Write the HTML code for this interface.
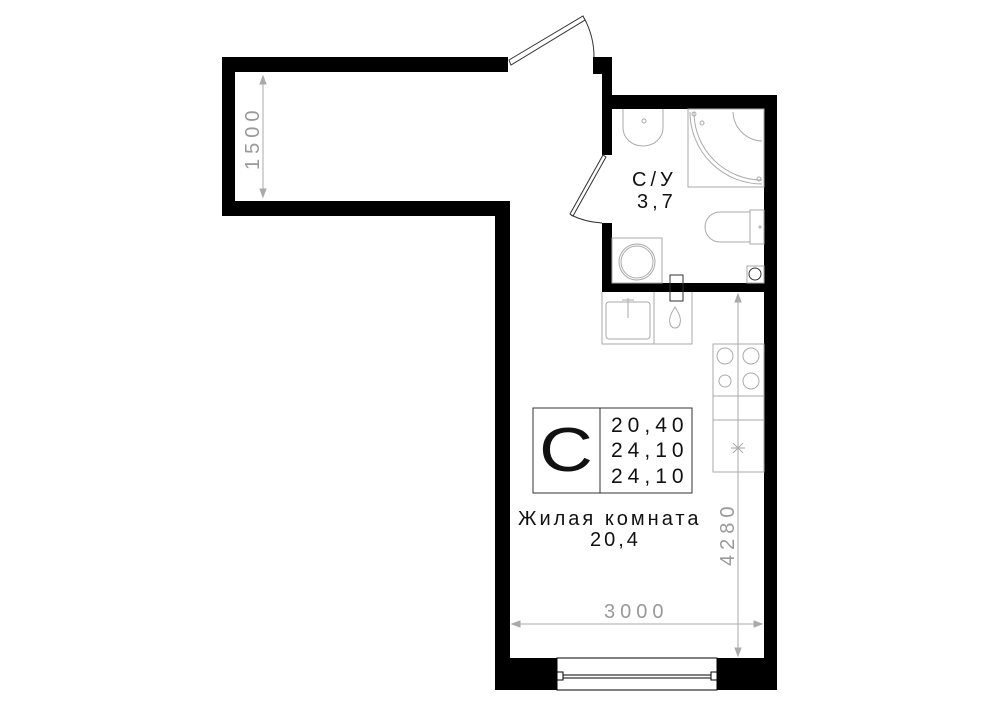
<!DOCTYPE html>
<html><head><meta charset="utf-8"><style>
html,body{margin:0;padding:0;background:#fff;}
svg{display:block;font-family:"Liberation Sans",sans-serif;}
</style></head><body>
<svg width="1000" height="707" viewBox="0 0 1000 707" xmlns="http://www.w3.org/2000/svg">
<g fill="#000">
<rect x="222" y="57" width="286" height="15"/>
<rect x="222" y="57" width="13" height="159"/>
<rect x="222" y="201" width="288" height="15"/>
<rect x="495" y="201" width="15" height="489"/>
<rect x="495" y="658" width="62" height="32"/>
<rect x="717" y="658" width="60" height="32"/>
<rect x="764" y="95" width="13" height="595"/>
<rect x="602" y="95" width="175" height="14"/>
<rect x="593" y="57" width="19" height="17"/>
<rect x="602" y="57" width="10" height="98"/>
<rect x="602" y="223" width="10" height="69"/>
<rect x="602" y="283" width="162" height="9"/>
</g>
<g fill="none" stroke="#000" stroke-width="1">
<rect x="557" y="658" width="160" height="32"/>
<line x1="560" y1="675" x2="714" y2="675"/>
<line x1="560" y1="678" x2="714" y2="678"/>
<rect x="557" y="672" width="6" height="8" fill="#fff"/>
<rect x="711" y="672" width="6" height="8" fill="#fff"/>
</g>
<g fill="none" stroke="#333" stroke-width="1">
<polygon points="509,60 583,16 585,20 511,65" fill="#fff"/>
<path d="M584,18 Q594,36 594,57"/>
<polygon points="603,155 606,157 573,216 570,214" fill="#fff"/>
<path d="M571,215 Q585,222 602,223"/>
</g>
<g fill="none" stroke="#aaa" stroke-width="1">
<path d="M623,109 V128 a20,18 0 0 0 40,0 V109"/>
<circle cx="644" cy="121" r="2"/>
<rect x="688" y="109" width="76" height="78"/>
<path d="M690,112 A72,72 0 0 0 762,184"/>
<path d="M694,112 A68,68 0 0 0 762,180"/>
<path d="M733,112 A30,30 0 0 0 762,141"/>
<circle cx="694" cy="114" r="2"/><circle cx="702" cy="123" r="2"/><circle cx="759" cy="179" r="2"/>
<path d="M750,212 H720 a15,15 0 0 0 0,30 H750 Z"/>
<rect x="750" y="210" width="14" height="34"/>
<circle cx="760" cy="227" r="1"/>
<rect x="612" y="238" width="50" height="45"/>
<circle cx="637" cy="262" r="18"/><circle cx="637" cy="262" r="16"/>
<rect x="747" y="266" width="17" height="17"/>
<circle cx="755" cy="274" r="6" stroke="#333"/>
<rect x="670" y="275" width="13" height="26" stroke="#333"/>
<polyline points="602,292 602,344 692,344 692,292"/>
<line x1="654" y1="292" x2="654" y2="344"/>
<rect x="606" y="302" width="44" height="37" rx="3"/>
<path d="M622,300 H634 M628,298 V318"/>
<path d="M675,307 Q668,318 670,323 a5,5 0 0 0 10,0 Q682,318 675,307Z"/>
<rect x="713" y="344" width="51" height="128"/>
<line x1="713" y1="396" x2="764" y2="396"/>
<line x1="713" y1="420" x2="764" y2="420"/>
<line x1="738" y1="344" x2="738" y2="396"/>
<circle cx="725" cy="356" r="8"/><circle cx="751" cy="356" r="8"/>
<circle cx="725" cy="381" r="6"/><circle cx="751" cy="381" r="8"/>
<path d="M731,448 H745 M738,441 V455 M733,443 L743,453 M743,443 L733,453"/>
</g>
<g stroke="#aaa" stroke-width="1" fill="#aaa">
<line x1="263" y1="76" x2="263" y2="197"/>
<polygon points="263,76 260,84 266,84"/><polygon points="263,197 260,189 266,189"/>
<line x1="738" y1="294" x2="738" y2="656"/>
<polygon points="738,294 735,302 741,302"/><polygon points="738,656 735,648 741,648"/>
<line x1="512" y1="624" x2="762" y2="624"/>
<polygon points="512,624 520,621 520,627"/><polygon points="762,624 754,621 754,627"/>
</g>
<g fill="#999" font-size="20" letter-spacing="5">
<text x="0" y="0" transform="translate(259,170) rotate(-90)">1500</text>
<text x="0" y="0" transform="translate(734,566) rotate(-90)">4280</text>
<text x="604" y="618">3000</text>
</g>
<g fill="#111" font-size="20" letter-spacing="4">
<text x="632" y="186">С/У</text>
<text x="637" y="208">3,7</text>
</g>
<g fill="#111" font-size="20" letter-spacing="3">
<text x="518" y="525">Жилая комната</text>
<text x="590" y="546">20,4</text>
</g>
<rect x="533" y="408" width="159" height="85" fill="none" stroke="#333" stroke-width="1"/>
<line x1="600" y1="408" x2="600" y2="493" stroke="#333"/>
<text x="0" y="0" transform="translate(566,471) scale(1.2,1)" font-size="62" text-anchor="middle" fill="#111">C</text>
<g fill="#111" font-size="21" letter-spacing="5">
<text x="611" y="432">20,40</text>
<text x="611" y="457">24,10</text>
<text x="611" y="483">24,10</text>
</g>
</svg>
</body></html>
